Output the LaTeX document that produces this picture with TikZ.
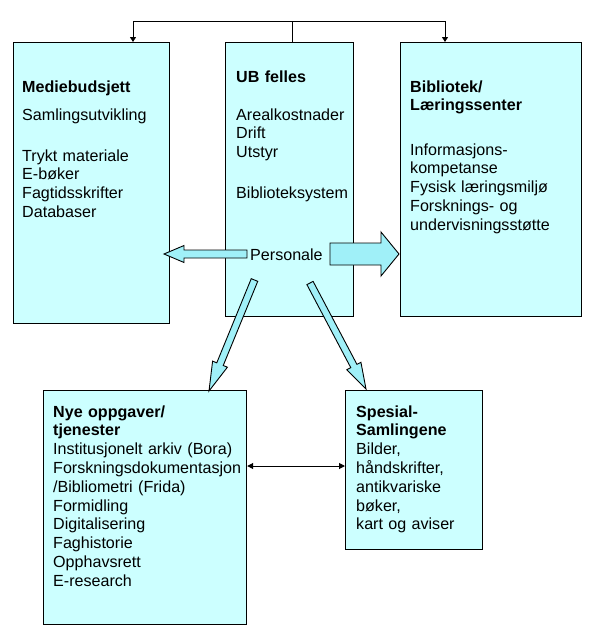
\documentclass[tikz,border=0pt]{standalone}
\usepackage{fontspec}
\setmainfont{Liberation Sans}
\usetikzlibrary{calc,arrows.meta}
\definecolor{boxfill}{RGB}{204,255,255}
\definecolor{arrfill}{RGB}{160,240,248}
\newcommand{\blockarr}[6]{%
  \coordinate (#1h) at ($(#3)!#6!(#2)$);
  \draw[barrow] ($(#2)!#4!90:(#3)$) -- ($(#1h)!#4!90:(#3)$) -- ($(#1h)!#5!90:(#3)$) -- (#3)
     -- ($(#1h)!#5!-90:(#3)$) -- ($(#1h)!#4!-90:(#3)$) -- ($(#2)!#4!-90:(#3)$) -- cycle;}
\tikzset{
  boxst/.style={draw=black, line width=1.2pt, fill=boxfill, anchor=north west, inner sep=0pt},
  txt/.style={anchor=base west, inner sep=0pt, align=left, text width=#1,
    font=\fontsize{16.1}{18.8}\selectfont},
  barrow/.style={draw=black, line width=0.9pt, fill=arrfill, line join=miter},
  conn/.style={draw=black, line width=1pt},
  tip/.style={-{Triangle[width=6pt,length=5pt]}},
  dtip/.style={{Triangle[width=6pt,length=6pt]}-{Triangle[width=6pt,length=6pt]}}
}
\begin{document}
\begin{tikzpicture}[x=1pt,y=-1pt]
\useasboundingbox (0,0) rectangle (591,637);
% boxes
\node[boxst, minimum width=156pt, minimum height=281pt] (mb) at (12.5,42) {};
\node[boxst, minimum width=128.5pt, minimum height=274pt] (ub) at (224.5,42) {};
\node[boxst, minimum width=181pt, minimum height=274pt] (bl) at (400,42) {};
\node[boxst, minimum width=203pt, minimum height=234pt] (ny) at (43,390) {};
\node[boxst, minimum width=137pt, minimum height=159pt] (sp) at (345,390) {};
% texts
\node[txt=140pt] (t1) at (22,92) {\textbf{Mediebudsjett}};
\node[txt=140pt] (t2) at (22,120) {Samlingsutvikling};
\node[txt=140pt] (t3) at (22,161) {Trykt materiale\\E-bøker\\Fagtidsskrifter\\Databaser};
\node[txt=115pt] (t4) at (236,82) {\textbf{UB felles}};
\node[txt=115pt] (t5) at (236,120) {Arealkostnader\\Drift\\Utstyr};
\node[txt=115pt] (t6) at (236,198) {Biblioteksystem};
\node[txt=80pt] (t7) at (250,260) {Personale};
\node[txt=165pt] (t8) at (410,92) {\textbf{Bibliotek/}\\\textbf{Læringssenter}};
\node[txt=165pt] (t9) at (410,155) {Informasjons-\\kompetanse\\Fysisk læringsmiljø\\Forsknings- og\\undervisningsstøtte};
\node[txt=195pt] (t10) at (53,417) {\textbf{Nye oppgaver/}\\\textbf{tjenester}\\Institusjonelt arkiv (Bora)\\Forskningsdokumentasjon\\/Bibliometri (Frida)\\Formidling\\Digitalisering\\Faghistorie\\Opphavsrett\\E-research};
\node[txt=124pt] (t11) at (356,417) {\textbf{Spesial-}\\\textbf{Samlingene}\\Bilder,\\håndskrifter,\\antikvariske\\bøker,\\kart og aviser};
% top connector
\coordinate (jt) at (292,21);
\coordinate (jl) at (133,21);
\coordinate (jr) at (445,21);
\draw[conn] (ub.north -| jt) -- (jt);
\draw[conn] (jl) -- (jr);
\draw[conn,tip] (jl) -- (jl |- mb.north);
\draw[conn,tip] (jr) -- (jr |- bl.north);
% block arrows
\coordinate (la1) at (247,254);
\coordinate (la2) at (164,254);
\blockarr{la}{la1}{la2}{4pt}{8.5pt}{20pt}
\coordinate (ra1) at (330,254);
\coordinate (ra2) at (399,254);
\blockarr{ra}{ra1}{ra2}{11pt}{22pt}{18pt}
\coordinate (da1) at (254.5,280);
\coordinate (da2) at (209,391);
\blockarr{da}{da1}{da2}{3.5pt}{8pt}{29pt}
\coordinate (db1) at (310,283);
\coordinate (db2) at (366,389);
\blockarr{db}{db1}{db2}{3.5pt}{8pt}{26pt}
% double arrow
\coordinate (dd) at (300,466);
\draw[conn,dtip] (ny.east |- dd) -- (sp.west |- dd);
\end{tikzpicture}
\end{document}
